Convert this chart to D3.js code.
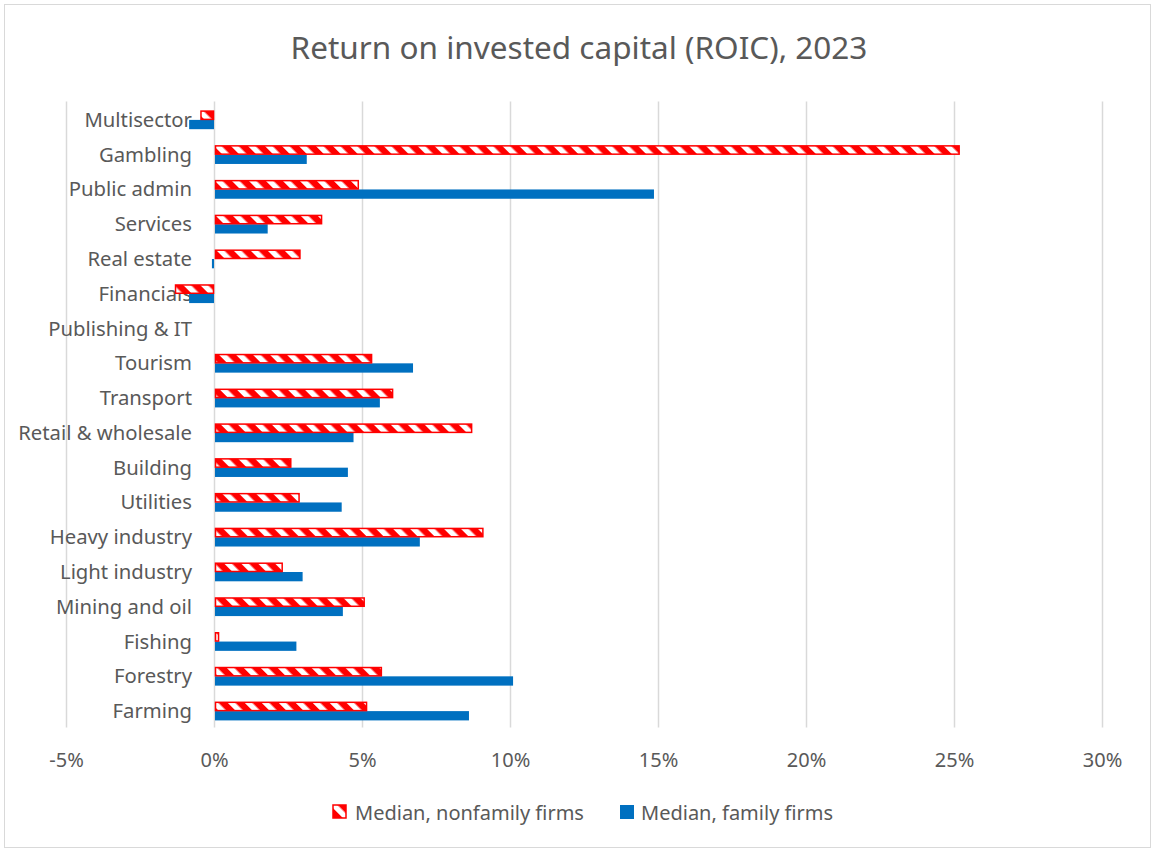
<!DOCTYPE html>
<html>
<head>
<meta charset="utf-8">
<script src="https://cdn.jsdelivr.net/npm/d3@7"></script>
<style>
  html, body { margin: 0; padding: 0; background: #fff; }
  svg { display: block; }
  text { font-family: "Noto Sans", "Open Sans", sans-serif; fill: #595959; }
</style>
</head>
<body>
<svg id="chart" width="1152" height="849"></svg>
<script>
// ---- Data ----
const categories = ["Multisector", "Gambling", "Public admin", "Services", "Real estate", "Financials",
  "Publishing & IT", "Tourism", "Transport", "Retail & wholesale", "Building", "Utilities",
  "Heavy industry", "Light industry", "Mining and oil", "Fishing", "Forestry", "Farming"];
const nonfamily = [-0.44, 25.14, 4.84, 3.60, 2.87, -1.30, null, 5.29, 6.00, 8.67, 2.56, 2.84, 9.05, 2.27, 5.04, 0.12, 5.62, 5.12];
const family    = [-0.84, 3.10, 14.83, 1.78, -0.07, -0.84, null, 6.69, 5.57, 4.68, 4.49, 4.28, 6.92, 2.96, 4.32, 2.75, 10.07, 8.58];
const xTicks = [-5, 0, 5, 10, 15, 20, 25, 30];
const seriesNames = ["Median, nonfamily firms", "Median, family firms"];
const title = "Return on invested capital (ROIC), 2023";

// ---- Layout ----
const svg = d3.select("#chart");
const plot = { left: 66, right: 1102, top: 101.5, bottom: 727.5 };
const BLUE = "#0070C0", RED = "#FF0000", GRID = "#D9D9D9";

svg.append("rect").attr("x", 4.5).attr("y", 4.5).attr("width", 1146).attr("height", 843)
  .attr("fill", "#fff").attr("stroke", "#D9D9D9").attr("stroke-width", 1);

// pattern
const defs = svg.append("defs");
const pat = defs.append("pattern").attr("id", "stripes")
  .attr("patternUnits", "userSpaceOnUse").attr("width", 12).attr("height", 12)
  .attr("patternTransform", "rotate(-45)");
pat.append("rect").attr("width", 12).attr("height", 12).attr("fill", RED);
pat.append("rect").attr("x", 0).attr("width", 5.5).attr("height", 12).attr("fill", "#fff");

const x = d3.scaleLinear().domain([-5, 30]).range([plot.left, plot.right]);
const y = d3.scaleBand().domain(categories).range([plot.top, plot.bottom]).padding(0);

// title
svg.append("text").attr("x", 579).attr("y", 59).attr("text-anchor", "middle")
  .attr("font-size", 31.5).text(title);

// grid
svg.append("g").selectAll("line").data(xTicks).join("line")
  .attr("x1", d => Math.round(x(d)) + 0.5).attr("x2", d => Math.round(x(d)) + 0.5)
  .attr("y1", plot.top).attr("y2", plot.bottom)
  .attr("stroke", GRID).attr("stroke-width", 1.5);

// x axis labels
const xAxis = d3.axisBottom(x).tickValues(xTicks).tickSize(0).tickPadding(0)
  .tickFormat(d => d + "%");
const gx = svg.append("g").attr("transform", `translate(0, ${plot.bottom + 25})`).call(xAxis);
gx.select(".domain").remove();
gx.selectAll("text").attr("font-size", 20).attr("fill", "#595959")
  .attr("font-family", "Noto Sans, sans-serif").attr("dy", "0.71em");

// y labels
const yAxis = d3.axisLeft(y).tickSize(0).tickPadding(0);
const gy = svg.append("g").attr("transform", `translate(192, 1.5)`).call(yAxis);
gy.select(".domain").remove();
gy.selectAll("text").attr("font-size", 20.3).attr("fill", "#595959")
  .attr("font-family", "Noto Sans, sans-serif");

// bars
const barH = 9.3;
const rows = categories.map((c, i) => ({ c, nf: nonfamily[i], f: family[i] }));
const yc = c => y(c) + y.bandwidth() / 2 + 1;

svg.append("g").selectAll("rect").data(rows.filter(d => d.f !== null)).join("rect")
  .attr("x", d => x(Math.min(0, d.f)) + (d.f >= 0 ? 1 : 0))
  .attr("width", d => Math.abs(x(d.f) - x(0)))
  .attr("y", d => yc(d.c))
  .attr("height", barH)
  .attr("fill", BLUE);

svg.append("g").selectAll("rect").data(rows.filter(d => d.nf !== null)).join("rect")
  .attr("x", d => x(Math.min(0, d.nf)) + (d.nf >= 0 ? 1.5 : 0))
  .attr("width", d => Math.max(0.5, Math.abs(x(d.nf) - x(0)) - 0.5))
  .attr("y", d => yc(d.c) - barH + 0.5)
  .attr("height", barH - 1)
  .attr("fill", "url(#stripes)")
  .attr("stroke", RED).attr("stroke-width", 1.5);

// legend
const lg = svg.append("g");
lg.append("rect").attr("x", 333).attr("y", 805).attr("width", 13).attr("height", 13)
  .attr("fill", "url(#stripes)").attr("stroke", RED).attr("stroke-width", 1.5);
lg.append("text").attr("x", 355).attr("y", 820).attr("font-size", 20).text(seriesNames[0]);
lg.append("rect").attr("x", 620).attr("y", 805).attr("width", 14).attr("height", 14).attr("fill", BLUE);
lg.append("text").attr("x", 641).attr("y", 820).attr("font-size", 20).text(seriesNames[1]);
</script>
</body>
</html>
